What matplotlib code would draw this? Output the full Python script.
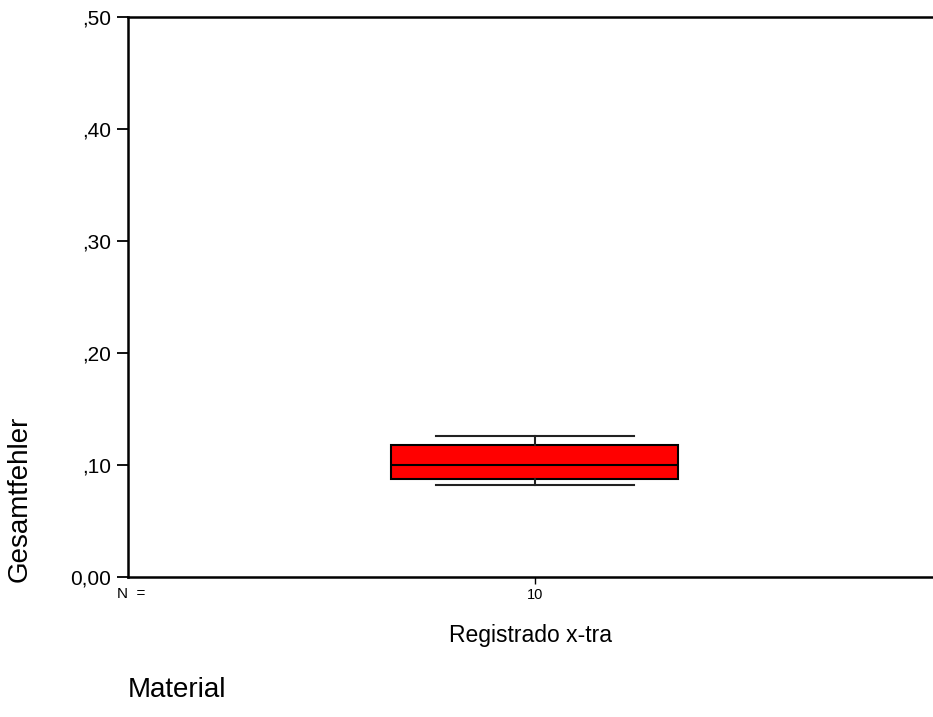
import matplotlib
matplotlib.use("Agg")
import matplotlib.pyplot as plt

plt.rcParams['font.family'] = ['Liberation Sans', 'DejaVu Sans']

# box plot summary for the single group
groups = ['Registrado x-tra']
n_values = [10]
medians = [0.100]
q1_values = [0.0875]
q3_values = [0.1179]
whisker_low = [0.082]
whisker_high = [0.126]

ytick_values = [0.0, 0.1, 0.2, 0.3, 0.4, 0.5]
ytick_labels = ['0,00', ',10', ',20', ',30', ',40', ',50']

stats = []
for i in range(len(groups)):
    stats.append({'med': medians[i], 'q1': q1_values[i], 'q3': q3_values[i],
                  'whislo': whisker_low[i], 'whishi': whisker_high[i],
                  'fliers': [], 'label': str(n_values[i])})

fig = plt.figure(figsize=(9.33, 7.17), dpi=100)
ax = fig.add_axes([128/933, 140/717, 1 - 128/933, 560/717])

ax.bxp(stats, positions=[1], widths=0.7, capwidths=0.485, patch_artist=True,
       showfliers=False,
       boxprops=dict(facecolor='#ff0000', edgecolor='black', linewidth=1.5),
       medianprops=dict(color='black', linewidth=1.5),
       whiskerprops=dict(color='#222222', linewidth=1.5),
       capprops=dict(color='#222222', linewidth=1.5))

ax.set_xlim(0.0073, 1.971)
ax.set_ylim(0, 0.5)
ax.set_yticks(ytick_values, ytick_labels, fontsize=15)
ax.set_xticks([1], [str(n) for n in n_values], fontsize=10.5)
ax.tick_params(axis='y', direction='out', length=8, width=1.3, pad=4)
ax.tick_params(axis='x', direction='out', length=5, width=1.0, pad=3)

for side in ['left', 'bottom', 'top']:
    ax.spines[side].set_linewidth(1.8)
ax.spines['right'].set_visible(False)

ax.text(0.004, -0.018, 'N  =', transform=ax.transAxes, ha='center', va='top', fontsize=11)
ax.set_xlabel(groups[0], fontsize=16.5, labelpad=16)

fig.text(20/933, 1 - 499/717, 'Gesamtfehler', rotation=90, ha='center', va='center', fontsize=20)
fig.text(128/933, 1 - 690/717, 'Material', ha='left', va='center', fontsize=20)

fig.savefig('out.png', dpi=100)
